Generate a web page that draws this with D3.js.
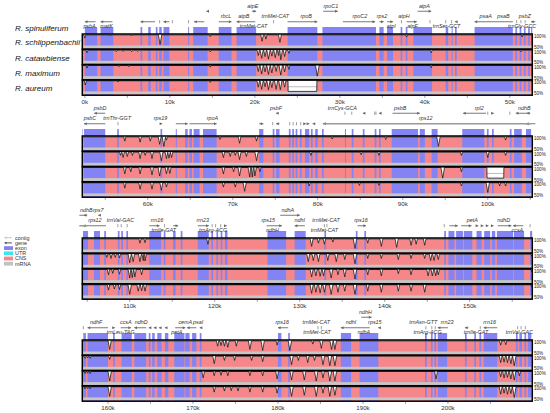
<!DOCTYPE html>
<html><head><meta charset="utf-8">
<script src="https://cdn.jsdelivr.net/npm/d3@7/dist/d3.min.js"></script>
<style>body{margin:0;background:#fff}svg{display:block}text{font-family:"Liberation Sans",Arial,sans-serif}</style>
</head><body><svg id="c" width="550" height="413"></svg>
<script>
// ---------------- DATA (kb) ----------------
const referenceSpecies = "R. spinuliferum";
const trackSpecies = ["R. schlippenbachii","R. catawbiense","R. maximum","R. aureum"];
const panelStarts = [-0.3, 52.3, 104.42, 156.98];

const exons = [
 [0.0,1.45],[1.85,3.35],[6.55,6.75],[7.45,7.75],[8.35,8.55],[8.75,9.05],[9.25,9.95],[12.15,12.25],[12.75,14.45],
 [15.75,17.25],[17.85,20.15],[23.85,27.35],[27.95,34.25],[34.65,35.15],[35.55,36.25],[37.15,37.35],[37.75,37.95],
 [38.65,40.85],[42.45,42.75],[43.15,43.25],[43.55,43.75],[45.85,50.35],[50.65,50.85],[51.15,51.35],[51.65,51.85],[52.15,52.35],
 [52.5,55.0],[56.4,56.6],[61.5,61.7],[63.3,63.4],[64.4,64.7],[64.9,65.2],[65.4,66.1],[66.5,68.1],[73.1,73.6],[74.7,74.9],
 [75.1,75.5],[76.6,76.8],[77.0,77.2],[77.4,77.6],[77.9,78.1],[78.5,79.0],[79.2,79.4],[79.7,80.0],[80.5,80.7],[83.2,83.3],
 [84.0,84.2],[85.3,85.5],[86.7,86.9],[87.2,87.4],[88.7,91.8],[92.0,92.6],[93.4,94.1],[97.0,99.6],[99.9,100.1],[100.5,100.7],
 [102.6,102.8],[103.1,104.0],[104.5,105.1],[105.8,106.5],[107.0,107.2],[108.6,108.8],[109.0,109.2],[109.6,109.8],
 [112.3,113.7],[114.0,114.2],[115.1,115.4],[116.0,116.2],[118.0,119.3],[119.6,119.8],[120.2,120.4],[120.7,120.9],[121.2,121.5],
 [126.2,128.4],[129.4,130.7],[132.9,133.1],[136.6,136.8],[137.6,137.8],[147.0,147.2],[147.5,148.2],[148.4,149.2],[149.3,150.3],
 [150.8,151.4],[151.7,152.4],[152.6,153.0],[153.2,155.1],[155.2,156.4],[157.1,157.4],[157.6,160.0],[160.6,160.8],
 [161.6,162.8],[163.1,164.5],[164.8,165.0],[165.2,165.5],[165.8,166.3],[166.7,167.1],[167.8,169.0],[169.1,169.6],
 [169.9,170.4],[170.8,171.0],[180.0,180.4],[181.2,181.4],[187.4,188.6],[189.6,191.8],[197.3,197.5],[198.0,198.2],
 [198.4,198.6],[198.8,199.9],[202.0,202.2],[203.1,203.3],[203.7,203.9],[204.2,205.8],[208.0,208.2],[208.4,208.7],
 [209.0,209.2],[209.4,209.8]
];

// gene labels: [name, kb, label row]
const geneLabels = [
 ["psbA",0.55,2],["matK",2.55,2],["atpE",19.75,0],["rbcL",16.6,1],["atpB",18.7,1],["trnMet-CAT",22.4,1],["trnMet-CAT",19.85,2],
 ["rpoB",26.05,1],["rpoC1",28.95,0],["rpoC2",32.35,1],["rps2",34.95,1],["atpI",36.05,2],["atpH",37.55,1],["atpF",38.55,2],
 ["atpA",39.95,0],["trnSer-GCT",42.55,2],["psaA",47.15,1],["psaB",49.25,1],["psbZ",51.75,1],["trnGly-GCC",51.45,2],
 ["psbC",53.2,1],["psbD",54.4,0],["trnThr-GGT",56.4,1],["rps19",61.5,1],["rpoA",67.6,1],["psbF",75.1,0],["trnCys-GCA",82.9,0],
 ["psbB",89.7,0],["rps12",92.7,1],["rpl2",99.0,0],["ndhB",104.3,0],
 ["ndhB",104.9,0],["rps7",106.3,0],["rps12",105.9,1],["trnVal-GAC",108.9,1],["rrn16",113.2,1],["trnIle-GAT",114.0,2],
 ["rrn23",118.6,1],["trnArg-ACG",119.8,2],["rps15",126.3,1],["ndhH",126.8,2],["ndhA",128.6,0],["ndhI",130.0,1],
 ["trnMet-CAT",133.1,1],["trnMet-CAT",132.9,2],["rps16",137.2,1],["petA",150.3,1],["ndhD",154.0,1],["ccsA",155.6,2],
 ["ndhF",158.6,1],["trnLeu-TAG",161.5,2],["ccsA",162.1,1],["ndhD",163.9,1],["cemA",169.1,1],["psaI",170.6,1],["petA",168.1,2],
 ["rps16",180.5,1],["trnMet-CAT",184.5,1],["trnMet-CAT",184.6,2],["ndhI",188.6,1],["ndhA",190.1,2],["ndhH",190.3,0],
 ["rps15",191.4,1],["trnAsn-GTT",197.1,1],["rrn23",199.9,1],["trnArg-ACG",197.6,2],["rrn16",204.9,1],["trnIle-GAT",203.3,2],
 ["trnVal-GAC",208.4,2]
];

// gene arrows: [start, end, strand (1,-1,0=tick), arrow row]
const geneArrows = [
 [0.0,1.25,-1,1],[1.85,3.25,-1,1],[6.55,8.25,-1,1],[8.8,8.8,0,1],[9.25,9.95,-1,1],[10.3,10.3,0,1],[12.2,12.2,0,1],[12.85,14.05,-1,1],
 [15.75,17.25,1,1],[17.85,20.05,-1,1],[22.2,22.2,0,1],[23.85,27.35,1,1],[30.35,34.15,1,1],[34.65,35.15,1,1],[35.55,36.25,1,1],
 [37.25,37.25,0,1],[37.85,39.05,1,1],[40.6,40.6,0,1],[42.45,42.45,0,1],[43.15,43.15,0,1],[43.55,43.75,-1,1],[45.85,50.35,-1,1],
 [50.8,50.8,0,1],[51.3,51.3,0,1],[51.8,51.8,0,1],
 [14.3,14.45,-1,0],[19.65,20.15,1,0],[28.05,29.75,1,0],[39.15,40.75,1,0],
 [53.7,55.0,-1,0],[75.1,75.25,-1,0],[83.2,83.2,0,0],[84.0,84.0,0,0],[85.3,85.5,-1,0],[86.7,86.7,0,0],[86.85,86.85,0,0],
 [87.2,87.4,-1,0],[88.8,92.0,1,0],[97.1,99.8,-1,0],[100.0,100.0,0,0],[100.5,100.7,1,0],[102.6,102.6,0,0],[103.3,105.0,-1,0],
 [52.5,55.0,-1,1],[56.5,56.5,0,1],[61.5,61.7,1,1],[63.3,64.7,1,1],[64.9,68.1,1,1],[73.1,73.6,1,1],[74.7,74.7,0,1],[75.1,75.5,-1,1],
 [76.7,76.7,0,1],[77.1,77.1,0,1],[77.5,77.5,0,1],[78.0,78.0,0,1],[78.4,78.6,1,1],[78.8,79.0,1,1],[79.4,79.6,-1,1],
 [104.6,104.8,-1,0],[106.3,106.5,-1,0],[127.7,130.0,1,0],
 [104.5,107.2,-1,1],[108.6,108.6,0,1],[109.0,109.0,0,1],[109.7,109.7,0,1],[112.3,113.5,1,1],[114.1,114.1,0,1],[115.1,115.7,1,1],
 [118.0,119.3,1,1],[119.7,119.7,0,1],[120.1,120.1,0,1],[120.7,120.7,0,1],[121.2,121.4,1,1],[126.1,127.9,1,1],[129.4,130.6,-1,1],
 [132.9,132.9,0,1],[133.2,133.2,0,1],[136.8,137.8,1,1],[147.0,147.0,0,1],[147.6,148.6,1,1],[149.0,150.2,1,1],[150.8,151.0,1,1],
 [151.4,151.6,1,1],[152.0,152.2,1,1],[152.6,152.8,1,1],[153.3,154.9,1,1],[155.1,156.3,-1,1],[157.1,157.1,0,1],
 [189.8,191.0,1,0],
 [157.6,160.0,-1,1],[160.6,160.8,1,1],[161.5,162.7,1,1],[163.1,164.5,-1,1],[164.8,165.0,-1,1],[165.4,165.6,-1,1],
 [166.0,166.2,-1,1],[166.7,166.9,-1,1],[167.9,169.1,1,1],[169.3,170.4,-1,1],[170.8,171.0,-1,1],[180.0,181.2,-1,1],[184.7,184.7,0,1],
 [185.1,185.1,0,1],[187.4,190.8,-1,1],[191.8,192.0,-1,1],[197.4,197.4,0,1],[198.1,198.1,0,1],[198.5,198.5,0,1],[198.8,200.0,-1,1],
 [202.0,202.4,-1,1],[203.8,203.8,0,1],[204.2,205.8,-1,1],[208.2,208.2,0,1],[208.6,208.6,0,1],[209.1,209.1,0,1]
];
const contigs = [[80.6,105.0,-1]];

// identity dips per species: [kb, min identity %]
const dipsSchl = [[0.0,85],[3.0,95],[5.5,95],[8.85,55],[14.75,92],[20.85,70],[21.3,80],[22.95,65],[37.85,90],[51.45,90],
 [57.3,80],[59.1,75],[60.3,80],[61.4,65],[61.9,55],[62.2,85],[68.5,88],[70.8,70],[72.8,80],[81.7,90],[88.0,88],[94.2,55],[102.1,85],
 [111.2,80],[111.8,82],[119.2,75],[131.4,65],[132.2,80],[132.9,75],[133.9,85],[136.5,55],[138.0,80],[139.6,65],[141.4,60],[143.1,70],
 [143.7,75],[144.7,70],
 [160.2,60],[172.9,75],[173.3,78],[173.7,75],[174.1,70],[175.1,75],[176.7,60],[178.2,55],[179.9,80],[181.4,55],[184.1,85],[185.1,65],
 [186.3,60],[186.7,60],[206.2,80],[206.8,82]];
const dipsCataw = [[0.25,88],[3.7,93],[4.5,94],[5.5,93],[6.2,94],[14.75,92],[20.4,75],[20.8,62],[21.2,70],[21.6,58],[22.0,72],
 [22.4,65],[22.8,75],[23.05,55],[23.5,70],[24.0,85],[40.75,88],[51.3,92],
 [56.8,85],[57.1,75],[57.6,80],[58.2,85],[59.1,70],[59.7,85],[60.5,70],[61.6,60],[62.2,70],[62.5,72],[62.8,75],[68.9,75],[69.7,80],
 [70.3,85],[70.8,65],[71.6,80],[72.8,60],[79.2,85],[85.1,88],[87.2,85],[96.9,85],[100.0,75],[102.1,85],
 [107.3,85],[107.8,80],[108.3,85],[108.8,82],[110.0,60],[110.4,65],[111.2,65],[111.6,70],[111.8,68],[131.0,65],[131.6,70],[132.2,65],
 [133.3,70],[134.3,65],[135.3,75],[136.5,55],[138.0,80],[139.6,80],[141.6,75],[143.1,80],[144.7,80],[145.4,70],[145.8,70],[146.3,75],
 [157.3,90],[157.6,92],[157.9,90],[160.2,85],[172.5,65],[173.7,80],[174.9,80],[176.9,80],[178.2,75],[181.6,60],[182.4,80],[183.5,70],
 [184.3,80],[185.3,60],[186.1,55],[186.7,55],[206.2,70],[206.6,72],[207.0,70],[207.4,65],[207.8,55]];
const dipsMax = [[0.25,88],[4.0,94],[5.2,94],[14.75,92],[20.4,72],[20.8,60],[21.2,70],[21.6,58],[22.0,65],[22.5,72],[23.05,55],
 [23.5,70],[24.0,82],[27.35,50],[40.75,90],
 [57.3,70],[58.0,80],[59.1,70],[60.5,65],[61.4,60],[62.2,70],[62.6,72],[68.9,70],[70.1,80],[70.8,60],[72.0,55],[72.3,55],[72.6,60],
 [73.2,80],[94.7,50],[96.9,80],
 [107.5,75],[108.0,82],[108.8,78],[110.0,60],[110.3,62],[110.6,65],[111.4,75],[131.4,65],[131.9,70],[132.4,68],[132.8,70],[133.7,60],
 [134.5,75],[135.3,65],[136.5,55],[138.0,75],[139.6,70],[141.6,80],[143.1,75],[145.1,70],[145.6,70],[146.0,70],[146.3,75],
 [157.3,90],[157.6,92],[157.9,90],[160.2,55],[171.2,70],[172.5,80],[173.3,82],[174.1,80],[176.7,80],[178.2,80],[179.9,65],[181.6,60],
 [183.1,60],[184.5,55],[185.3,70],[186.1,55],[186.7,55],[198.6,65],[206.2,75],[206.6,70],[207.0,72],[207.4,65],[207.8,60],[208.4,80]];
const dipsAur = [[0.05,80],[3.9,94],[14.75,92],[20.4,70],[20.8,60],[21.2,72],[21.6,58],[22.0,68],[22.5,60],[23.0,58],[23.5,70],
 [57.3,75],[59.1,70],[60.5,70],[61.6,65],[62.2,80],[68.9,80],[70.3,80],[71.4,60],[79.0,85],[84.9,88],[87.2,88],[96.9,85],[100.0,55],
 [101.4,85],[102.1,85],
 [107.5,75],[108.2,80],[108.8,78],[110.0,55],[111.0,70],[111.4,72],[111.8,70],[131.4,60],[131.9,65],[132.4,62],[132.9,65],[133.7,55],
 [134.5,65],[135.3,70],[136.5,55],[138.0,70],[139.6,65],[141.6,70],[143.1,70],[144.7,65],
 [157.3,90],[157.6,92],[157.9,90],[160.2,55],[172.5,75],[173.7,80],[174.5,82],[175.3,80],[176.7,75],[178.2,75],[179.9,70],[181.6,55],
 [183.1,60],[184.5,55],[185.3,70],[186.1,55],[186.7,60],[206.2,65],[206.6,70],[207.0,65],[207.4,68],[207.8,50]];
const gapsSchl = [], gapsCataw = [], gapsMax = [[99.9,101.9]], gapsAur = [[23.9,27.3]];

const legendLabels = ["contig","gene","exon","UTR","CNS","mRNA"];
const percentLabels = ["100%","50%"];

// ---------------- DRAWING ----------------
const EXON="#8383f3", CNS="#f5878b", BAND="#c6c6c6", UTR="#3ee6ee", MRNA="#c2c2c2";
const X0=82.3, X1=532.3, pxPerKb=8.5, trackH=15.3;
const panelTops=[34,136,238,340];
const labelRowOff=[-28.3,-18.3,-8.1], arrowRowOff=[-22.8,-12.3];
const dipSets=[dipsSchl,dipsCataw,dipsMax,dipsAur], gapSets=[gapsSchl,gapsCataw,gapsMax,gapsAur];
const svg=d3.select("#c");
const defs=svg.append("defs");

function curvePoints(dips,gaps,d0,d1){
  const pts=[[d0-2,100],[d1+2,100]];
  dips.forEach(([c,v])=>{const hw=0.07+(100-v)*0.0028;pts.push([c-hw,100],[c,v],[c+hw,100]);});
  gaps.forEach(([s,e])=>{pts.push([s,100],[s+0.02,50],[e-0.02,50],[e,100]);});
  return pts.sort((a,b)=>a[0]-b[0]);
}
function panelOf(kb){let p=0;panelStarts.forEach((s,i)=>{if(kb>=s)p=i;});return p;}

panelTops.forEach((top,pi)=>{
  const d0=panelStarts[pi], d1=d0+(X1-X0)/pxPerKb;
  const sx=d3.scaleLinear().domain([d0,d1]).range([X0,X1]);
  const bottom=top+4*trackH;
  defs.append("clipPath").attr("id","cp"+pi).append("rect").attr("x",X0).attr("y",top-8).attr("width",X1-X0).attr("height",bottom-top+8);
  const g=svg.append("g").attr("clip-path",`url(#cp${pi})`);
  const ex=exons.filter(e=>e[1]>=d0&&e[0]<=d1);
  g.selectAll(null).data(ex).join("rect").attr("x",d=>sx(d[0])).attr("width",d=>Math.max(1,sx(d[1])-sx(d[0])))
   .attr("y",top-7).attr("height",7).attr("fill",EXON);
  trackSpecies.forEach((sp,ti)=>{
    const t=top+ti*trackH;
    const ys=d3.scaleLinear().domain([50,100]).range([t+11.5,t+0.9]);
    g.append("rect").attr("x",X0).attr("y",t).attr("width",X1-X0).attr("height",trackH).attr("fill",CNS);
    g.selectAll(null).data(ex).join("rect").attr("x",d=>sx(d[0])).attr("width",d=>Math.max(1,sx(d[1])-sx(d[0])))
     .attr("y",t).attr("height",trackH).attr("fill",EXON);
    const pts=curvePoints(dipSets[ti],gapSets[ti],d0,d1);
    g.append("path").datum(pts).attr("d",d3.area().x(d=>sx(d[0])).y0(t).y1(d=>ys(d[1]))).attr("fill","#fff");
    g.append("rect").attr("x",X0).attr("y",t+11.5).attr("width",X1-X0).attr("height",2.8).attr("fill",BAND);
    g.selectAll(null).data(gapSets[ti]).join("line").attr("x1",d=>sx(d[0])).attr("x2",d=>sx(d[1]))
     .attr("y1",ys(72)).attr("y2",ys(72)).attr("stroke","#aaa").attr("stroke-width",0.8);
    g.append("path").datum(pts).attr("d",d3.line().x(d=>sx(d[0])).y(d=>ys(d[1]))).attr("fill","none")
     .attr("stroke","#111").attr("stroke-width",0.75);
  });
  trackSpecies.forEach((sp,ti)=>{
    svg.append("rect").attr("x",X0).attr("y",top+ti*trackH).attr("width",X1-X0).attr("height",trackH)
     .attr("fill","none").attr("stroke","#000").attr("stroke-width",1.5);
    percentLabels.forEach((lab,li)=>{
      svg.append("text").attr("x",534).attr("y",top+ti*trackH+(li===0?4.3:15)).text(lab)
       .attr("font-size",4.6).attr("fill","#222");
    });
  });
  const ag=svg.append("g").attr("clip-path",`url(#cpa${pi})`);
  defs.append("clipPath").attr("id","cpa"+pi).append("rect").attr("x",X0-3).attr("y",top-30).attr("width",X1-X0+6).attr("height",30);
  geneArrows.filter(a=>a[1]>=d0&&a[0]<=d1).forEach(([s,e,str,row])=>{
    const y=top+arrowRowOff[row];
    if(str===0){
      ag.append("line").attr("x1",sx(s)).attr("x2",sx(s)).attr("y1",y-1.6).attr("y2",y+1.6).attr("stroke","#777").attr("stroke-width",0.7);
    }else{
      const xa=sx(s), xb=sx(e);
      ag.append("line").attr("x1",xa).attr("x2",xb).attr("y1",y).attr("y2",y).attr("stroke","#7a7a7a").attr("stroke-width",1.1);
      const tip=str>0?xb:xa, dir=str>0?-1:1;
      ag.append("path").attr("d",`M${tip},${y}L${tip+dir*2.6},${y-1.5}L${tip+dir*2.6},${y+1.5}Z`).attr("fill","#666");
    }
  });
  contigs.filter(c=>c[1]>=d0&&c[0]<=d1).forEach(([s,e,str])=>{
    const y=top+arrowRowOff[1], xa=sx(s), xb=sx(e);
    ag.append("line").attr("x1",xa).attr("x2",xb).attr("y1",y).attr("y2",y).attr("stroke","#999").attr("stroke-width",1.4);
    ag.append("path").attr("d",`M${xa},${y}L${xa+3},${y-1.6}L${xa+3},${y+1.6}Z`).attr("fill","#888");
  });
  geneLabels.filter(l=>panelOf(l[1])===pi).forEach(([name,kb,row])=>{
    svg.append("text").attr("x",sx(kb)).attr("y",top+labelRowOff[row]+2).attr("text-anchor","middle")
     .attr("font-size",5.4).attr("font-style","italic").attr("fill","#333").text(name);
  });
  const ticks=d3.range(Math.ceil(d0/5)*5,d1,5);
  svg.selectAll(null).data(ticks).join("line").attr("x1",d=>sx(d)).attr("x2",d=>sx(d)).attr("y1",bottom+0.7).attr("y2",bottom+2.6)
   .attr("stroke","#555").attr("stroke-width",0.6);
  svg.selectAll(null).data(ticks.filter(k=>k%10===0)).join("text").attr("x",d=>sx(d)).attr("y",bottom+8.3)
   .attr("text-anchor","middle").attr("font-size",6.2).attr("fill","#333").text(d=>d+"k");
});

svg.append("text").attr("x",15).attr("y",31).attr("font-size",8).attr("font-style","italic").attr("fill","#111").text(referenceSpecies);
trackSpecies.forEach((sp,i)=>{
  svg.append("text").attr("x",15).attr("y",panelTops[0]+i*trackH+trackH/2+3.6).attr("font-size",8)
   .attr("font-style","italic").attr("fill","#111").text(sp);
});

const lg=svg.append("g");
legendLabels.forEach((lab,i)=>{
  const y=237.7+i*5.2;
  if(lab==="contig"){
    lg.append("line").attr("x1",5).attr("x2",12).attr("y1",y).attr("y2",y).attr("stroke","#c8c8c8").attr("stroke-width",1);
    lg.append("path").attr("d",`M4,${y}L6.5,${y-1.3}L6.5,${y+1.3}Z`).attr("fill","#c8c8c8");
  }else if(lab==="gene"){
    lg.append("line").attr("x1",5).attr("x2",12).attr("y1",y).attr("y2",y).attr("stroke","#555").attr("stroke-width",1);
    lg.append("path").attr("d",`M4,${y}L6.5,${y-1.3}L6.5,${y+1.3}Z`).attr("fill","#555");
  }else{
    const col={exon:EXON,UTR:UTR,CNS:CNS,mRNA:MRNA}[lab];
    lg.append("rect").attr("x",4).attr("y",y-1.9).attr("width",9).attr("height",3.8).attr("fill",col);
  }
  lg.append("text").attr("x",15).attr("y",y+1.9).attr("font-size",5.4).attr("fill","#333").text(lab);
});
</script></body></html>
